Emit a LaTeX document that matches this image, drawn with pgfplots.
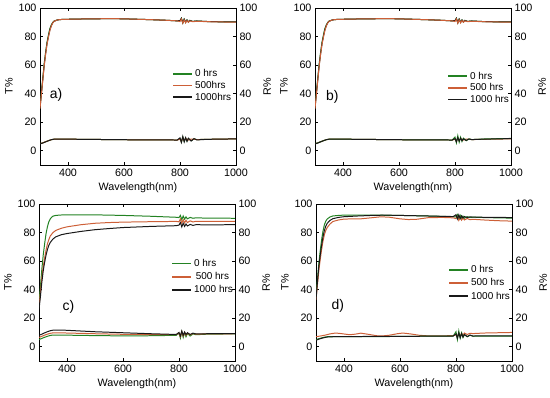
\documentclass[border=0pt]{standalone}
\usepackage{fontspec}
\setmainfont{Liberation Sans}
\usepackage{pgfplots}
\pgfplotsset{compat=1.18}
\definecolor{cg}{RGB}{35,130,35}
\definecolor{cr}{RGB}{205,95,55}
\definecolor{ck}{RGB}{25,25,25}
\pgfplotsset{
 panel/.style={scale only axis, width=196bp, height=157bp,
  xmin=300, xmax=1000, ymin=-10, ymax=100,
  xtick={400,600,800,1000}, ytick={0,20,...,100},
  tick align=inside, major tick length=3bp,
  tick style={black, line width=0.8pt},
  axis line style={line width=0.9pt},
  /pgf/number format/assume math mode=true,
  /pgf/number format/1000 sep={},
  tick label style={font=\fontsize{10.8}{12}\selectfont},
  label style={font=\fontsize{10.8}{12}\selectfont},
  ylabel style={yshift=-1bp},
  xlabel={Wavelength(nm)}, ylabel={T\%},
  legend style={draw=none, fill=none, font=\fontsize{10}{11}\selectfont, anchor=north west,
    row sep=-1bp},
  legend cell align=left,
  legend image code/.code={\draw[#1, line width=1.6pt] (0bp,0bp) -- (19bp,0bp);},
 },
 rpanel/.style={scale only axis, width=196bp, height=157bp,
  xmin=300, xmax=1000, ymin=-10, ymax=100,
  axis x line=none, axis y line*=right, ytick={0,20,...,100},
  tick align=inside, major tick length=3bp,
  tick style={black, line width=0.8pt},
  axis line style={line width=0.9pt, -},
  /pgf/number format/assume math mode=true,
  tick label style={font=\fontsize{10.8}{12}\selectfont},
  label style={font=\fontsize{10.8}{12}\selectfont},
  ylabel style={yshift=1bp},
  ylabel={R\%},
 },
 every axis plot/.append style={line width=1pt},
}
\begin{document}
\begin{tikzpicture}
\useasboundingbox (0,0) rectangle (550bp,398bp);
% ---------------- a)
\begin{axis}[panel, at={(40bp,233bp)}, anchor=south west,
  legend style={at={(0.66,0.635)}}]
\addlegendimage{draw=cg}\addlegendentry{0 hrs}
\addlegendimage{draw=cr}\addlegendentry{500hrs}
\addlegendimage{draw=ck}\addlegendentry{1000hrs}
\addplot[cg, forget plot] coordinates {(300,31)(305,41)(310,51)(315,61)(320,69)(325,76)(330,81)(335,85.5)(340,88)(345,89.8)(350,90.8)(360,91.5)(370,91.9)(400,92.1)(450,92.3)(500,92.4)(550,92.6)(600,92.4)(650,92.1)(700,91.8)(750,91.4)(790,91)(800,91.2)(805,92.8)(810,89.6)(815,92.2)(820,90)(825,91.6)(830,90.2)(835,91.3)(845,90.6)(860,90.9)(900,90.5)(950,90.3)(1000,90.2)};
\addplot[ck, forget plot] coordinates {(300,30)(305,40)(310,50)(315,60)(320,68)(325,75)(330,80)(335,84.5)(340,87.5)(345,89.5)(350,90.7)(360,91.5)(370,91.9)(400,92.1)(450,92.3)(500,92.4)(550,92.6)(600,92.4)(650,92.1)(700,91.8)(750,91.4)(790,91)(800,91.2)(805,92.8)(810,89.6)(815,92.2)(820,90)(825,91.6)(830,90.2)(835,91.3)(845,90.6)(860,90.9)(900,90.5)(950,90.3)(1000,90.2)};
\addplot[cr, forget plot] coordinates {(300,29.5)(305,39.5)(310,49.5)(315,59.5)(320,67.5)(325,74.5)(330,79.5)(335,84)(340,87.2)(345,89.3)(350,90.6)(360,91.5)(370,91.9)(400,92.1)(450,92.3)(500,92.4)(550,92.6)(600,92.4)(650,92.1)(700,91.8)(750,91.4)(790,91)(800,90.5)(805,92.3)(810,89.3)(815,91.7)(820,89.6)(825,91.2)(830,90)(835,91)(845,90.4)(860,90.7)(900,90.4)(950,90.2)(1000,90.1)};
\addplot[cg, forget plot] coordinates {(300,5)(310,5.5)(320,6.3)(330,7)(340,7.7)(350,8.1)(370,8.2)(400,8.1)(500,7.9)(600,7.7)(700,7.6)(790,7.5)(800,8.5)(805,6)(810,9.5)(815,6.5)(820,9)(825,6.8)(830,8.5)(840,7)(850,8.3)(860,7.8)(900,8)(1000,8.3)};
\addplot[cr, forget plot] coordinates {(300,5)(310,5.5)(320,6.3)(330,7)(340,7.7)(350,8.1)(370,8.2)(400,8.1)(500,7.9)(600,7.7)(700,7.6)(790,7.5)(800,8)(805,6.5)(810,9)(815,7)(820,8.6)(830,7.5)(840,8.2)(860,7.8)(900,8)(1000,8.3)};
\addplot[ck, forget plot] coordinates {(300,4.8)(310,5.4)(320,6.2)(330,7)(340,7.7)(350,8.1)(370,8.2)(400,8.1)(500,7.9)(600,7.7)(700,7.6)(790,7.5)(800,9)(805,5.8)(810,10)(815,6.2)(820,9.2)(825,6.5)(830,8.8)(840,6.8)(850,8.5)(860,7.6)(900,8)(1000,8.3)};
\node[font=\fontsize{14}{16}\selectfont] at (axis cs:357,39) {a)};
\end{axis}
\begin{axis}[rpanel, at={(40bp,233bp)}, anchor=south west]
\end{axis}
% ---------------- b)
\begin{axis}[panel, at={(315bp,233bp)}, anchor=south west,
  legend style={at={(0.66,0.62)}}]
\addlegendimage{draw=cg}\addlegendentry{0 hrs}
\addlegendimage{draw=cr}\addlegendentry{500 hrs}
\addlegendimage{draw=ck}\addlegendentry{1000 hrs}
\addplot[cg, forget plot] coordinates {(300,31)(305,41)(310,51)(315,61)(320,69)(325,76)(330,81)(335,85.5)(340,88)(345,89.8)(350,90.8)(360,91.5)(370,91.9)(400,92.1)(450,92.3)(500,92.4)(550,92.6)(600,92.4)(650,92.1)(700,91.8)(750,91.4)(790,91)(800,91.2)(805,92.8)(810,89.6)(815,92.2)(820,90)(825,91.6)(830,90.2)(835,91.3)(845,90.6)(860,90.9)(900,90.5)(950,90.3)(1000,90.2)};
\addplot[ck, forget plot] coordinates {(300,30)(305,40)(310,50)(315,60)(320,68)(325,75)(330,80)(335,84.5)(340,87.5)(345,89.5)(350,90.7)(360,91.5)(370,91.9)(400,92.1)(450,92.3)(500,92.4)(550,92.6)(600,92.4)(650,92.1)(700,91.8)(750,91.4)(790,91)(800,91.2)(805,92.8)(810,89.6)(815,92.2)(820,90)(825,91.6)(830,90.2)(835,91.3)(845,90.6)(860,90.9)(900,90.5)(950,90.3)(1000,90.2)};
\addplot[cr, forget plot] coordinates {(300,29.5)(305,39.5)(310,49.5)(315,59.5)(320,67.5)(325,74.5)(330,79.5)(335,84)(340,87.2)(345,89.3)(350,90.6)(360,91.5)(370,91.9)(400,92.1)(450,92.3)(500,92.4)(550,92.6)(600,92.4)(650,92.1)(700,91.8)(750,91.4)(790,91)(800,90.5)(805,92.3)(810,89.3)(815,91.7)(820,89.6)(825,91.2)(830,90)(835,91)(845,90.4)(860,90.7)(900,90.4)(950,90.2)(1000,90.1)};
\addplot[cr, forget plot] coordinates {(300,5)(310,5.5)(320,6.3)(330,7)(340,7.7)(350,8.1)(370,8.2)(400,8.1)(500,7.9)(600,7.7)(700,7.6)(790,7.5)(800,8)(805,6.5)(810,9)(815,7)(820,8.6)(830,7.5)(840,8.2)(860,7.8)(900,8)(1000,8.3)};
\addplot[cg, forget plot] coordinates {(300,5)(310,5.5)(320,6.3)(330,7)(340,7.7)(350,8.1)(370,8.2)(400,8.1)(500,7.9)(600,7.7)(700,7.6)(790,7.5)(800,9.5)(805,5.5)(810,10.5)(815,6)(820,9.5)(825,6.5)(830,8.8)(840,7)(850,8.3)(860,7.8)(900,8.2)(1000,8.6)};
\addplot[ck, forget plot] coordinates {(300,4.8)(310,5.4)(320,6.2)(330,7)(340,7.7)(350,8.1)(370,8.2)(400,8.1)(500,7.9)(600,7.7)(700,7.6)(790,7.5)(800,8.5)(805,6.2)(810,9.2)(815,6.8)(820,8.8)(825,7)(830,8.3)(840,7.2)(850,8.2)(860,7.8)(900,8.1)(1000,8.5)};
\node[font=\fontsize{14}{16}\selectfont] at (axis cs:362,38) {b)};
\end{axis}
\begin{axis}[rpanel, at={(315bp,233bp)}, anchor=south west]
\end{axis}
% ---------------- c)
\begin{axis}[panel, at={(39bp,37bp)}, anchor=south west,
  legend style={at={(0.66,0.675)}, row sep=0.5bp}]
\addlegendimage{draw=cg}\addlegendentry{0 hrs}
\addlegendimage{draw=cr}\addlegendentry{\,500 hrs}
\addlegendimage{draw=ck}\addlegendentry{1000 hrs}
\addplot[cg, forget plot] coordinates {(300,30)(305,42)(310,54)(315,64)(320,72)(325,79)(330,84)(335,87.5)(340,89.5)(345,90.7)(350,91.5)(360,92)(380,92.3)(400,92.4)(500,92.4)(600,92)(700,91.4)(790,90.7)(800,90.5)(805,92)(810,89)(815,91.6)(820,89.4)(825,91)(830,89.6)(840,90.6)(850,90)(860,90.3)(900,90.1)(1000,90)};
\addplot[cr, forget plot] coordinates {(300,28)(305,38)(310,48)(315,56)(320,62)(325,67.5)(330,72)(335,75)(340,77.5)(350,80)(360,81.5)(380,83)(400,84)(450,85.5)(500,86.5)(550,87)(600,87.3)(700,87.6)(790,87.8)(800,87.5)(805,89.5)(810,86.5)(815,89)(820,86.8)(825,88.6)(830,87)(840,88.2)(850,87.4)(860,87.9)(900,87.8)(1000,87.8)};
\addplot[ck, forget plot] coordinates {(300,26)(305,35)(310,45)(315,53)(320,59)(325,64)(330,68)(335,71)(340,73)(350,75.5)(360,77)(380,78.5)(400,79.3)(450,80.8)(500,82)(550,82.8)(600,83.5)(700,84.3)(790,84.8)(800,85.2)(805,87)(810,84)(815,86.5)(820,84.3)(825,86)(830,84.6)(840,85.7)(850,85)(860,85.5)(900,85.4)(1000,85.5)};
\addplot[cg, forget plot] coordinates {(300,5)(310,5.8)(320,6.6)(330,7.3)(340,7.9)(350,8.2)(400,8.1)(500,7.8)(600,7.6)(700,7.7)(790,8)(800,9.5)(805,6)(810,10.5)(815,6.5)(820,9.8)(825,7)(830,9.2)(840,7.5)(850,9)(860,8.4)(900,8.8)(1000,9)};
\addplot[cr, forget plot] coordinates {(300,6.5)(310,7.3)(320,8.1)(330,8.8)(340,9.4)(350,9.7)(380,9.7)(400,9.6)(500,9.1)(600,8.7)(700,8.5)(790,8.5)(800,9.5)(805,7)(810,10.5)(815,7.5)(820,10)(825,8)(830,9.5)(840,8.3)(850,9.3)(860,8.8)(900,9)(1000,9.1)};
\addplot[ck, forget plot] coordinates {(300,8)(310,8.8)(320,9.7)(330,10.5)(340,11.2)(350,11.6)(380,11.7)(400,11.5)(450,11)(500,10.5)(600,9.8)(700,9.1)(790,8.6)(800,10)(805,7.5)(810,11)(815,8)(820,10.3)(825,8.5)(830,9.8)(840,8.6)(850,9.5)(860,9)(900,9.1)(1000,9.2)};
\node[font=\fontsize{14}{16}\selectfont] at (axis cs:405,28) {c)};
\end{axis}
\begin{axis}[rpanel, at={(39bp,37bp)}, anchor=south west]
\end{axis}
% ---------------- d)
\begin{axis}[panel, at={(316bp,37bp)}, anchor=south west,
  legend style={at={(0.66,0.635)}, row sep=0.5bp}]
\addlegendimage{draw=cg}\addlegendentry{0 hrs}
\addlegendimage{draw=cr}\addlegendentry{500 hrs}
\addlegendimage{draw=ck}\addlegendentry{1000 hrs}
\addplot[cg, forget plot] coordinates {(300,35)(305,47)(310,58)(315,67)(320,75)(325,81)(330,85.5)(335,88)(340,89.5)(350,90.9)(360,91.6)(380,92)(400,92.2)(500,92.2)(600,92)(700,91.6)(790,91.1)(800,91)(805,92.6)(810,89.6)(815,92.1)(820,89.9)(825,91.5)(830,90.1)(840,91.1)(850,90.5)(860,90.8)(900,90.5)(1000,90.1)};
\addplot[cr, forget plot] coordinates {(300,33)(305,43)(310,53)(315,61)(320,68)(325,74)(330,78.5)(335,81.5)(340,83.5)(350,86)(360,87.7)(380,88.8)(400,89.4)(430,89.6)(460,89.6)(500,90.4)(530,91)(560,90.8)(600,89.6)(630,89.1)(660,89.3)(700,90.4)(750,90.6)(790,90.3)(800,89.8)(805,91)(810,88.5)(815,90.6)(820,88.7)(825,90.2)(830,88.8)(840,89.8)(850,89)(860,89.3)(900,88.8)(950,88.3)(1000,88)};
\addplot[ck, forget plot] coordinates {(300,33)(305,45)(310,56)(315,64)(320,71)(325,77)(330,81.5)(335,84.5)(340,86.5)(350,88.5)(360,89.7)(380,90.6)(400,91.1)(450,91.6)(500,92)(550,92.2)(600,92)(700,91.6)(790,91.2)(800,92.5)(805,89.5)(810,92.4)(815,89.8)(820,91.7)(825,90.2)(830,91.2)(840,90.5)(850,91)(860,90.8)(900,90.7)(1000,90.5)};
\addplot[cr, forget plot] coordinates {(300,7)(315,7.5)(330,8)(350,9)(370,9.6)(390,9.2)(420,8.4)(440,8.8)(460,9.5)(490,8.6)(520,7.6)(540,7.6)(560,8)(590,9.1)(610,9.6)(640,8.9)(670,8)(700,7.6)(750,7.6)(790,7.8)(800,8.3)(805,7)(810,9.2)(815,7.5)(820,9.5)(825,8)(830,9.6)(840,8.6)(850,9.4)(860,9.2)(900,9.6)(1000,10)};
\addplot[cg, forget plot] coordinates {(300,5)(310,5.6)(320,6.2)(330,6.7)(340,7)(360,7.1)(400,7.1)(500,7.1)(600,7.2)(700,7.4)(790,7.5)(800,10.5)(805,5)(810,11)(815,6)(820,9.8)(825,6.5)(830,8.5)(840,7)(850,8)(860,7.4)(900,7.5)(1000,7.5)};
\addplot[ck, forget plot] coordinates {(300,4.5)(310,5.3)(320,5.9)(330,6.4)(340,6.8)(360,7)(400,7.1)(500,7.2)(600,7.2)(700,7.4)(790,7.5)(800,9)(805,6)(810,9.8)(815,6.3)(820,9.2)(825,6.8)(830,8.6)(840,7.1)(850,8.2)(860,7.5)(900,7.6)(1000,7.6)};
\node[font=\fontsize{14}{16}\selectfont] at (axis cs:378,28.5) {d)};
\end{axis}
\begin{axis}[rpanel, at={(316bp,37bp)}, anchor=south west]
\end{axis}
\end{tikzpicture}
\end{document}
